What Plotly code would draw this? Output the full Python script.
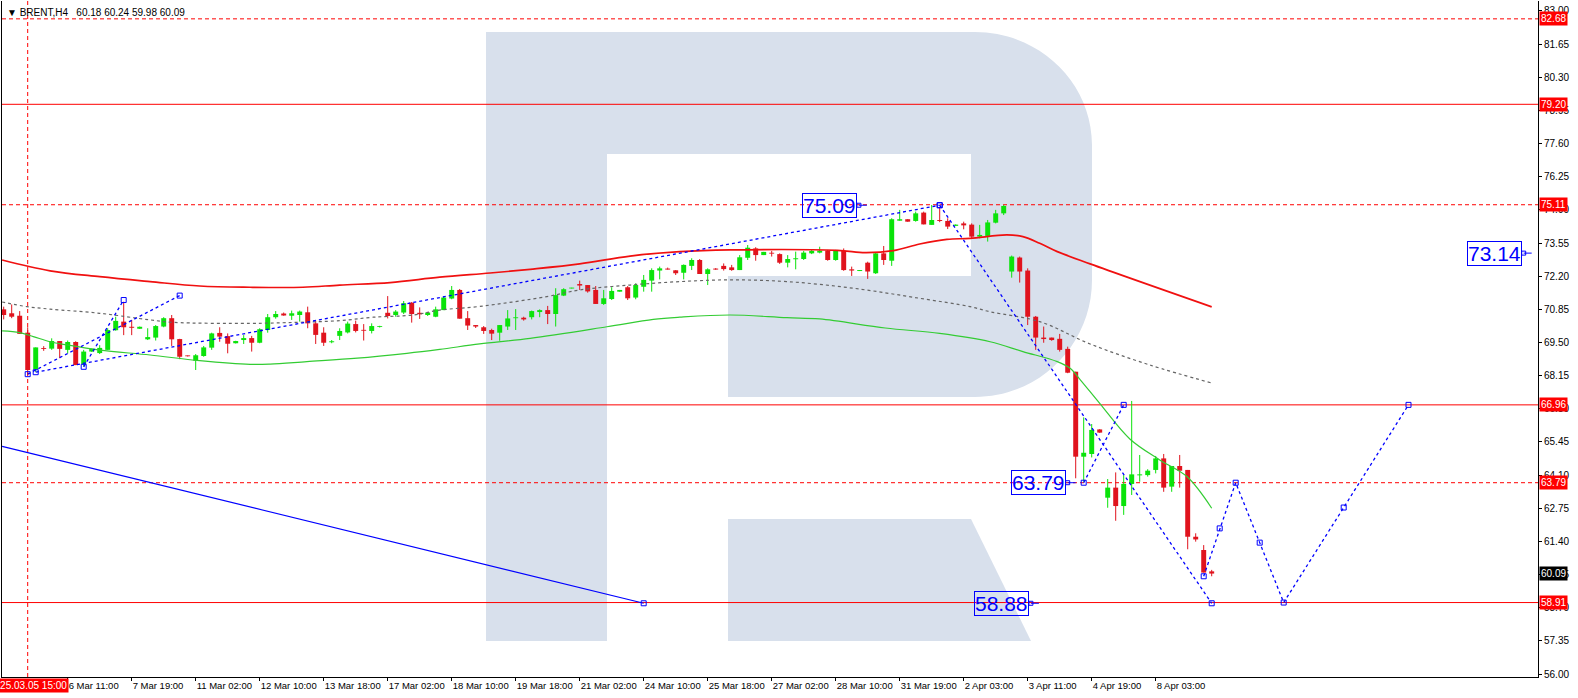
import plotly.graph_objects as go

# ---------------- data ----------------
bar_index = list(range(-3, 149))
opens = [70.85, 70.69, 70.59, 69.90, 68.41, 69.27, 69.25, 69.56, 69.20, 69.52,
         68.61, 69.13, 69.07, 69.20, 70.00, 70.35, 70.14, 70.06, 69.63, 69.70,
         70.15, 70.49, 69.64, 68.95, 68.76, 68.95, 69.29, 69.89, 69.76, 69.47,
         69.60, 69.68, 69.49, 70.01, 70.53, 70.68, 70.59, 70.62, 70.73, 70.28,
         69.90, 69.51, 69.77, 69.91, 70.25, 70.00, 69.97, 70.13, 70.71, 70.62,
         70.72, 71.12, 70.71, 70.62, 70.55, 70.82, 71.29, 71.64, 70.49, 70.21,
         70.12, 70.01, 69.90, 70.15, 70.49, 70.51, 70.53, 70.74, 70.82, 70.66,
         71.41, 71.70, 71.88, 71.84, 71.64, 71.07, 71.27, 71.57, 71.75, 71.33,
         71.77, 72.02, 72.43, 72.51, 72.44, 72.34, 72.62, 72.86, 72.29, 72.51,
         72.62, 72.56, 72.45, 72.95, 73.33, 73.06, 73.14, 73.10, 72.75, 72.89,
         72.90, 73.13, 73.16, 73.24, 72.86, 73.23, 72.48, 72.41, 72.75, 72.32,
         73.13, 72.83, 74.46, 74.52, 74.45, 74.79, 74.29, 74.49, 74.45, 74.25,
         74.35, 74.30, 73.81, 73.84, 74.38, 74.76, 72.39, 72.96, 72.43, 70.55,
         69.70, 69.70, 69.65, 69.24, 68.31, 64.85, 64.96, 65.96, 63.18, 63.59,
         62.84, 63.74, 64.09, 64.10, 64.31, 64.78, 63.63, 64.47, 64.31, 61.59,
         61.05, 60.18]
highs = [70.96, 71.05, 70.78, 70.12, 69.30, 69.35, 69.67, 69.56, 69.58, 69.55,
         69.20, 69.25, 69.39, 70.08, 70.55, 71.16, 70.42, 70.15, 70.08, 70.21,
         70.53, 70.62, 69.65, 68.97, 69.03, 69.36, 69.90, 70.12, 69.87, 69.57,
         69.80, 69.77, 70.08, 70.66, 70.78, 70.72, 70.80, 70.80, 70.96, 70.39,
         70.12, 69.60, 70.08, 70.35, 70.39, 70.25, 70.28, 70.18, 71.39, 70.82,
         71.19, 71.15, 70.93, 70.72, 70.96, 71.37, 71.80, 71.68, 70.78, 70.21,
         70.17, 70.06, 70.21, 70.82, 70.86, 70.55, 70.80, 70.85, 70.99, 71.71,
         71.71, 71.73, 72.02, 71.84, 71.80, 71.64, 71.75, 71.64, 71.80, 71.91,
         72.25, 72.52, 72.59, 72.55, 72.45, 72.68, 72.93, 72.90, 72.52, 72.53,
         72.72, 72.66, 73.06, 73.47, 73.38, 73.19, 73.23, 73.13, 73.06, 73.20,
         73.23, 73.27, 73.40, 73.27, 73.27, 73.33, 72.59, 72.45, 72.79, 73.16,
         73.43, 74.56, 74.90, 74.52, 74.83, 74.83, 75.10, 75.03, 74.56, 74.31,
         74.42, 74.35, 74.29, 74.49, 74.90, 75.10, 73.04, 73.00, 72.52, 70.58,
         70.15, 69.70, 69.85, 69.33, 68.31, 66.45, 66.18, 65.97, 63.94, 64.21,
         64.10, 67.12, 64.92, 64.34, 64.88, 64.96, 64.47, 64.92, 64.31, 61.73,
         61.25, 60.24]
lows = [70.44, 70.49, 69.85, 68.18, 68.30, 69.16, 69.20, 68.86, 69.06, 68.58,
        68.52, 69.12, 69.03, 69.20, 69.98, 69.80, 69.80, 70.05, 69.60, 69.58,
        70.12, 69.36, 68.82, 68.93, 68.38, 68.92, 69.20, 69.53, 69.06, 69.46,
        69.44, 69.13, 69.47, 69.90, 70.47, 70.59, 70.42, 70.35, 70.08, 69.44,
        69.36, 69.47, 69.60, 69.87, 69.91, 69.58, 69.87, 70.11, 70.48, 70.55,
        70.66, 70.31, 70.46, 70.58, 70.53, 70.82, 71.26, 70.47, 70.01, 70.09,
        69.85, 69.60, 69.57, 70.01, 70.01, 70.39, 70.44, 70.53, 70.25, 70.15,
        71.39, 71.70, 71.64, 71.53, 71.07, 71.03, 71.23, 71.57, 71.23, 71.26,
        71.57, 71.57, 72.07, 72.47, 72.25, 72.07, 72.45, 72.29, 71.84, 72.46,
        72.43, 72.42, 72.45, 72.86, 72.83, 73.06, 73.00, 72.70, 72.56, 72.48,
        72.86, 73.10, 73.13, 72.83, 72.83, 72.42, 72.21, 72.41, 72.09, 72.29,
        72.66, 72.62, 74.46, 74.42, 74.42, 74.31, 74.29, 74.40, 74.12, 74.24,
        74.11, 73.74, 73.74, 73.61, 74.35, 74.69, 72.14, 71.94, 70.21, 69.20,
        69.49, 69.57, 69.13, 68.25, 63.97, 63.83, 64.82, 65.82, 62.77, 62.24,
        62.48, 63.29, 63.83, 64.04, 64.17, 63.42, 63.42, 63.59, 61.08, 61.39,
        60.13, 59.98]
closes = [70.62, 70.55, 69.85, 68.38, 69.30, 69.24, 69.56, 69.24, 69.52, 68.58,
          69.13, 69.24, 69.28, 70.01, 70.38, 70.12, 70.10, 70.14, 69.72, 70.17,
          70.49, 69.63, 68.92, 68.94, 68.98, 69.30, 69.87, 69.74, 69.45, 69.56,
          69.68, 69.49, 70.04, 70.53, 70.66, 70.60, 70.69, 70.76, 70.28, 69.81,
          69.49, 69.55, 69.97, 70.27, 69.97, 69.98, 70.17, 70.16, 70.58, 70.76,
          71.10, 70.66, 70.65, 70.72, 70.85, 71.33, 71.64, 70.47, 70.19, 70.15,
          69.97, 69.86, 70.21, 70.48, 70.50, 70.44, 70.78, 70.82, 70.66, 71.43,
          71.67, 71.73, 71.82, 71.58, 71.07, 71.30, 71.60, 71.64, 71.30, 71.84,
          72.05, 72.45, 72.52, 72.47, 72.32, 72.66, 72.86, 72.29, 72.48, 72.47,
          72.49, 72.45, 72.97, 73.36, 73.06, 73.19, 73.12, 72.75, 72.90, 72.93,
          73.16, 73.23, 73.24, 72.86, 73.24, 72.45, 72.43, 72.45, 72.39, 73.13,
          72.86, 74.52, 74.52, 74.42, 74.76, 74.31, 74.49, 74.45, 74.22, 74.30,
          74.27, 73.81, 73.88, 74.39, 74.76, 75.06, 73.00, 72.39, 70.55, 69.70,
          69.64, 69.60, 69.20, 68.27, 64.85, 65.01, 65.94, 65.83, 63.59, 62.84,
          63.74, 64.13, 64.13, 64.28, 64.78, 63.59, 64.47, 64.28, 61.59, 61.48,
          60.13, 60.09]

ma_red_index = [-3.2, 2.8, 9.0, 15.3, 21.5, 27.8, 34.4, 39.0, 45.3, 51.5, 57.8, 62.8,
                69.0, 75.3, 81.5, 87.8, 101.2, 104.7, 108.2, 111.5, 114.9, 117.8, 122.4,
                124.4, 126.5, 128.7, 132.8, 148.0]
ma_red_value = [72.86, 72.42, 72.18, 71.98, 71.80, 71.75, 71.75, 71.84, 71.94, 72.16, 72.33,
                72.48, 72.70, 73.02, 73.20, 73.27, 73.25, 73.16, 73.24, 73.51, 73.70, 73.74,
                73.88, 73.81, 73.54, 73.20, 72.70, 70.95]

ma_gray_index = [-3.2, -0.1, 2.8, 9.0, 15.3, 18.2, 27.8, 32.4, 39.0, 43.2, 48.2, 51.5, 56.5,
                 64.9, 69.0, 75.3, 81.5, 87.8, 94.9, 103.2, 111.5, 117.8, 120.3, 126.5,
                 132.8, 140.3, 148.0]
ma_gray_value = [71.15, 70.96, 70.86, 70.69, 70.42, 70.32, 70.28, 70.31, 70.39, 70.53, 70.62,
                 70.82, 70.97, 71.37, 71.64, 71.84, 71.98, 72.05, 71.98, 71.71, 71.30, 70.96,
                 70.75, 70.35, 69.44, 68.58, 67.85]

ma_green_index = [-3.2, -1.0, 0.7, 2.8, 4.9, 9.0, 15.3, 21.5, 27.8, 30.3, 34.9, 41.2, 47.4,
                  51.5, 56.5, 62.8, 72.4, 78.2, 81.5, 87.8, 94.9, 99.0, 107.2, 114.0, 120.3,
                  124.4, 128.7, 130.3, 131.6, 134.0, 137.8, 141.5, 144.9, 148.0]
ma_green_value = [69.97, 69.90, 69.74, 69.53, 69.40, 69.19, 68.99, 68.76, 68.61, 68.62, 68.72,
                  68.86, 69.06, 69.22, 69.44, 69.67, 70.14, 70.44, 70.53, 70.62, 70.51, 70.46,
                  70.09, 69.87, 69.53, 69.13, 68.72, 68.45, 67.97, 67.02, 65.56, 64.72, 64.04,
                  62.75]

# blue drawn lines (bar index, price)
trend_main_x = [1, 114]
trend_main_y = [68.29, 75.09]
trend_short1_x = [0, 19]
trend_short1_y = [68.21, 71.41]
trend_short2_x = [7, 12]
trend_short2_y = [68.51, 71.23]
drop_x = [114, 148]
drop_y = [75.09, 58.88]
leg_x = [132, 137]
leg_y = [63.79, 66.96]
zigzag_x = [147, 149, 151, 154, 157, 164.5, 172.6]
zigzag_y = [59.98, 61.93, 63.79, 61.35, 58.91, 62.78, 66.96]
solid_x = [-3.2, 77]
solid_y = [65.27, 58.88]

level_dashed = [82.68, 75.11, 63.79]
level_solid = [79.20, 66.96, 58.91]
current_price = 60.09
cursor_index = 0
cursor_label = "2025.03.05 15:00"

label_texts = ["75.09", "63.79", "58.88", "73.14"]
label_index = [103.7, 129.8, 125.2, 186.8]
label_price = [75.09, 63.79, 58.88, 73.14]

x_tick_index = [5, 13, 21, 29, 37, 45, 53, 61, 69, 77, 85, 93, 101, 109, 117, 125, 133, 141]
x_tick_labels = ["6 Mar 11:00", "7 Mar 19:00", "11 Mar 02:00", "12 Mar 10:00", "13 Mar 18:00",
                 "17 Mar 02:00", "18 Mar 10:00", "19 Mar 18:00", "21 Mar 02:00", "24 Mar 10:00",
                 "25 Mar 18:00", "27 Mar 02:00", "28 Mar 10:00", "31 Mar 19:00", "2 Apr 03:00",
                 "3 Apr 11:00", "4 Apr 19:00", "8 Apr 03:00"]
y_tick_values = [56.00, 57.35, 58.70, 60.05, 61.40, 62.75, 64.10, 65.45, 66.80, 68.15, 69.50,
                 70.85, 72.20, 73.55, 74.90, 76.25, 77.60, 78.95, 80.30, 81.65, 83.00]

# ---------------- styling / geometry ----------------
W, H = 1578, 698
PL, PR, PT, PB = 2, 1538, 1, 677
X_RANGE = [-3.2125, 188.7875]
Y_RANGE = [55.878, 83.407]
GREEN = "#0be30b"
RED_C = "#e0141e"
RED_L = "#ff0000"
BLUE = "#0000ff"
FONT = "Liberation Sans, Arial, sans-serif"

fig = go.Figure()


def px2paper(px, py):
    return (px - PL) / (PR - PL), (PB - py) / (PB - PT)


def path_from(points, closed=True):
    parts = []
    for cmd, pts in points:
        coords = " ".join("%.5f,%.5f" % px2paper(*p) for p in pts)
        parts.append(cmd + coords)
    return " ".join(parts) + (" Z" if closed else "")


k = 0.5523
r = 117
wm_main = path_from([
    ("M", [(486, 32)]),
    ("L", [(975, 32)]),
    ("C", [(975 + k * r, 32), (1092, 145 - k * 113), (1092, 145)]),
    ("L", [(1092, 280)]),
    ("C", [(1092, 280 + k * r), (975 + k * r, 397), (975, 397)]),
    ("L", [(728, 397)]),
    ("L", [(728, 276)]),
    ("L", [(971, 276)]),
    ("L", [(971, 154)]),
    ("L", [(607, 154)]),
    ("L", [(607, 641)]),
    ("L", [(486, 641)]),
])
wm_leg = path_from([
    ("M", [(728, 519)]),
    ("L", [(971, 519)]),
    ("L", [(1031, 641)]),
    ("L", [(728, 641)]),
])
shapes = []
for pth in (wm_main, wm_leg):
    shapes.append(dict(type="path", path=pth, xref="paper", yref="paper",
                       fillcolor="#d8e0ec", line=dict(width=0), layer="below"))

for lv in level_dashed:
    shapes.append(dict(type="line", xref="paper", x0=0, x1=1, y0=lv, y1=lv, yref="y",
                       line=dict(color=RED_L, width=1, dash="4px,3px"), layer="below"))
for lv in level_solid:
    shapes.append(dict(type="line", xref="paper", x0=0, x1=1, y0=lv, y1=lv, yref="y",
                       line=dict(color=RED_L, width=1), layer="below"))
shapes.append(dict(type="line", xref="x", yref="paper", x0=cursor_index, x1=cursor_index,
                   y0=0, y1=1, line=dict(color=RED_L, width=1, dash="4px,3px"), layer="below"))

# ---- candle wicks ----
for up in (True, False):
    wx, wy = [], []
    for i, o, h, l, c in zip(bar_index, opens, highs, lows, closes):
        if (c >= o) == up:
            wx += [i, i, None]
            wy += [l, h, None]
    fig.add_trace(go.Scatter(x=wx, y=wy, mode="lines", hoverinfo="skip",
                             line=dict(color=GREEN if up else RED_C, width=1)))

# ---- candle bodies ----
body_base = [min(o, c) for o, c in zip(opens, closes)]
body_len = [max(abs(c - o), 0.035) for o, c in zip(opens, closes)]
body_col = [GREEN if c >= o else RED_C for o, c in zip(opens, closes)]
fig.add_trace(go.Bar(x=bar_index, y=body_len, base=body_base, width=0.62,
                     marker=dict(color=body_col, line=dict(width=0))))

# ---- moving averages ----
fig.add_trace(go.Scatter(x=ma_gray_index, y=ma_gray_value, mode="lines", line_shape="spline",
                         line=dict(color="#666666", width=1.2, dash="3px,3px")))
fig.add_trace(go.Scatter(x=ma_green_index, y=ma_green_value, mode="lines", line_shape="spline",
                         line=dict(color="#33cc33", width=1.2)))
fig.add_trace(go.Scatter(x=ma_red_index, y=ma_red_value, mode="lines", line_shape="spline",
                         line=dict(color="#f01010", width=1.7)))

# ---- blue drawings ----
dash_line = dict(color=BLUE, width=1.3, dash="3px,3px")
mk = dict(symbol="square-open", size=5, color=BLUE, line=dict(width=1, color=BLUE))
for xs, ys in ((trend_main_x, trend_main_y), (trend_short1_x, trend_short1_y),
               (trend_short2_x, trend_short2_y), (drop_x, drop_y), (leg_x, leg_y),
               (zigzag_x, zigzag_y)):
    fig.add_trace(go.Scatter(x=xs, y=ys, mode="lines+markers", line=dash_line, marker=mk))
fig.add_trace(go.Scatter(x=solid_x, y=solid_y, mode="lines", line=dict(color=BLUE, width=1.2)))
fig.add_trace(go.Scatter(x=[solid_x[-1]], y=[solid_y[-1]], mode="markers", marker=mk))

# label connectors
conn_x, conn_y = [], []
for xi, pv in zip(label_index, label_price):
    conn_x += [xi + 0.2, xi + 1.2, None]
    conn_y += [pv, pv, None]
fig.add_trace(go.Scatter(x=conn_x, y=conn_y, mode="lines", line=dict(color=BLUE, width=1)))
fig.add_trace(go.Scatter(x=[v + 0.2 for v in label_index], y=label_price, mode="markers",
                         marker=dict(symbol="square-open", size=4, color=BLUE)))

annotations = []
for t, xi, pv in zip(label_texts, label_index, label_price):
    annotations.append(dict(x=xi, y=pv, xref="x", yref="y", text=t, showarrow=False,
                            xanchor="right", yanchor="middle",
                            font=dict(family=FONT, size=21, color=BLUE),
                            bordercolor=BLUE, borderwidth=1, borderpad=0))

# price tags on the right axis
for lv in level_dashed + level_solid:
    annotations.append(dict(x=1, y=lv, xref="paper", yref="y", text="%.2f" % lv,
                            showarrow=False, xanchor="left", yanchor="middle", xshift=1,
                            bgcolor="#ff0000", font=dict(family=FONT, size=10, color="white"),
                            borderpad=1))
annotations.append(dict(x=1, y=current_price, xref="paper", yref="y", text="%.2f" % current_price,
                        showarrow=False, xanchor="left", yanchor="middle", xshift=1,
                        bgcolor="#000000", font=dict(family=FONT, size=10, color="white"),
                        borderpad=1))
annotations.append(dict(x=cursor_index, y=0, xref="x", yref="paper", text=cursor_label,
                        showarrow=False, xanchor="center", yanchor="top", yshift=-1,
                        bgcolor="#ff0000", font=dict(family=FONT, size=10, color="white"),
                        borderpad=1))
annotations.append(dict(x=0, y=1, xref="paper", yref="paper",
                        text="\u25bc BRENT,H4\u00a0\u00a0 60.18 60.24 59.98 60.09",
                        showarrow=False, xanchor="left", yanchor="top", xshift=3, yshift=-4,
                        font=dict(family=FONT, size=10, color="black")))

fig.update_layout(
    width=W, height=H, autosize=False,
    margin=dict(l=PL, r=W - PR, t=PT, b=H - PB, pad=0, autoexpand=False),
    paper_bgcolor="white", plot_bgcolor="white",
    showlegend=False, barmode="overlay",
    shapes=shapes, annotations=annotations,
    xaxis=dict(range=X_RANGE, showgrid=False, zeroline=False, showline=True,
               linecolor="black", linewidth=1, ticks="outside", ticklen=3, tickcolor="black",
               tickvals=x_tick_index, ticktext=x_tick_labels, tickangle=0, automargin=False,
               ticklabelposition="outside right",
               tickfont=dict(family=FONT, size=9.5, color="black"), fixedrange=True),
    yaxis=dict(range=Y_RANGE, side="right", showgrid=False, zeroline=False, showline=True,
               mirror=True, linecolor="black", linewidth=1, ticks="outside", ticklen=3,
               tickcolor="black", tickvals=y_tick_values, automargin=False,
               ticktext=["%.2f" % v for v in y_tick_values],
               tickfont=dict(family=FONT, size=10, color="black"), fixedrange=True),
)

fig.write_html("out.html", config={"displayModeBar": False, "staticPlot": True},
               post_script="document.body.style.margin='0';document.body.style.overflow='hidden';")
